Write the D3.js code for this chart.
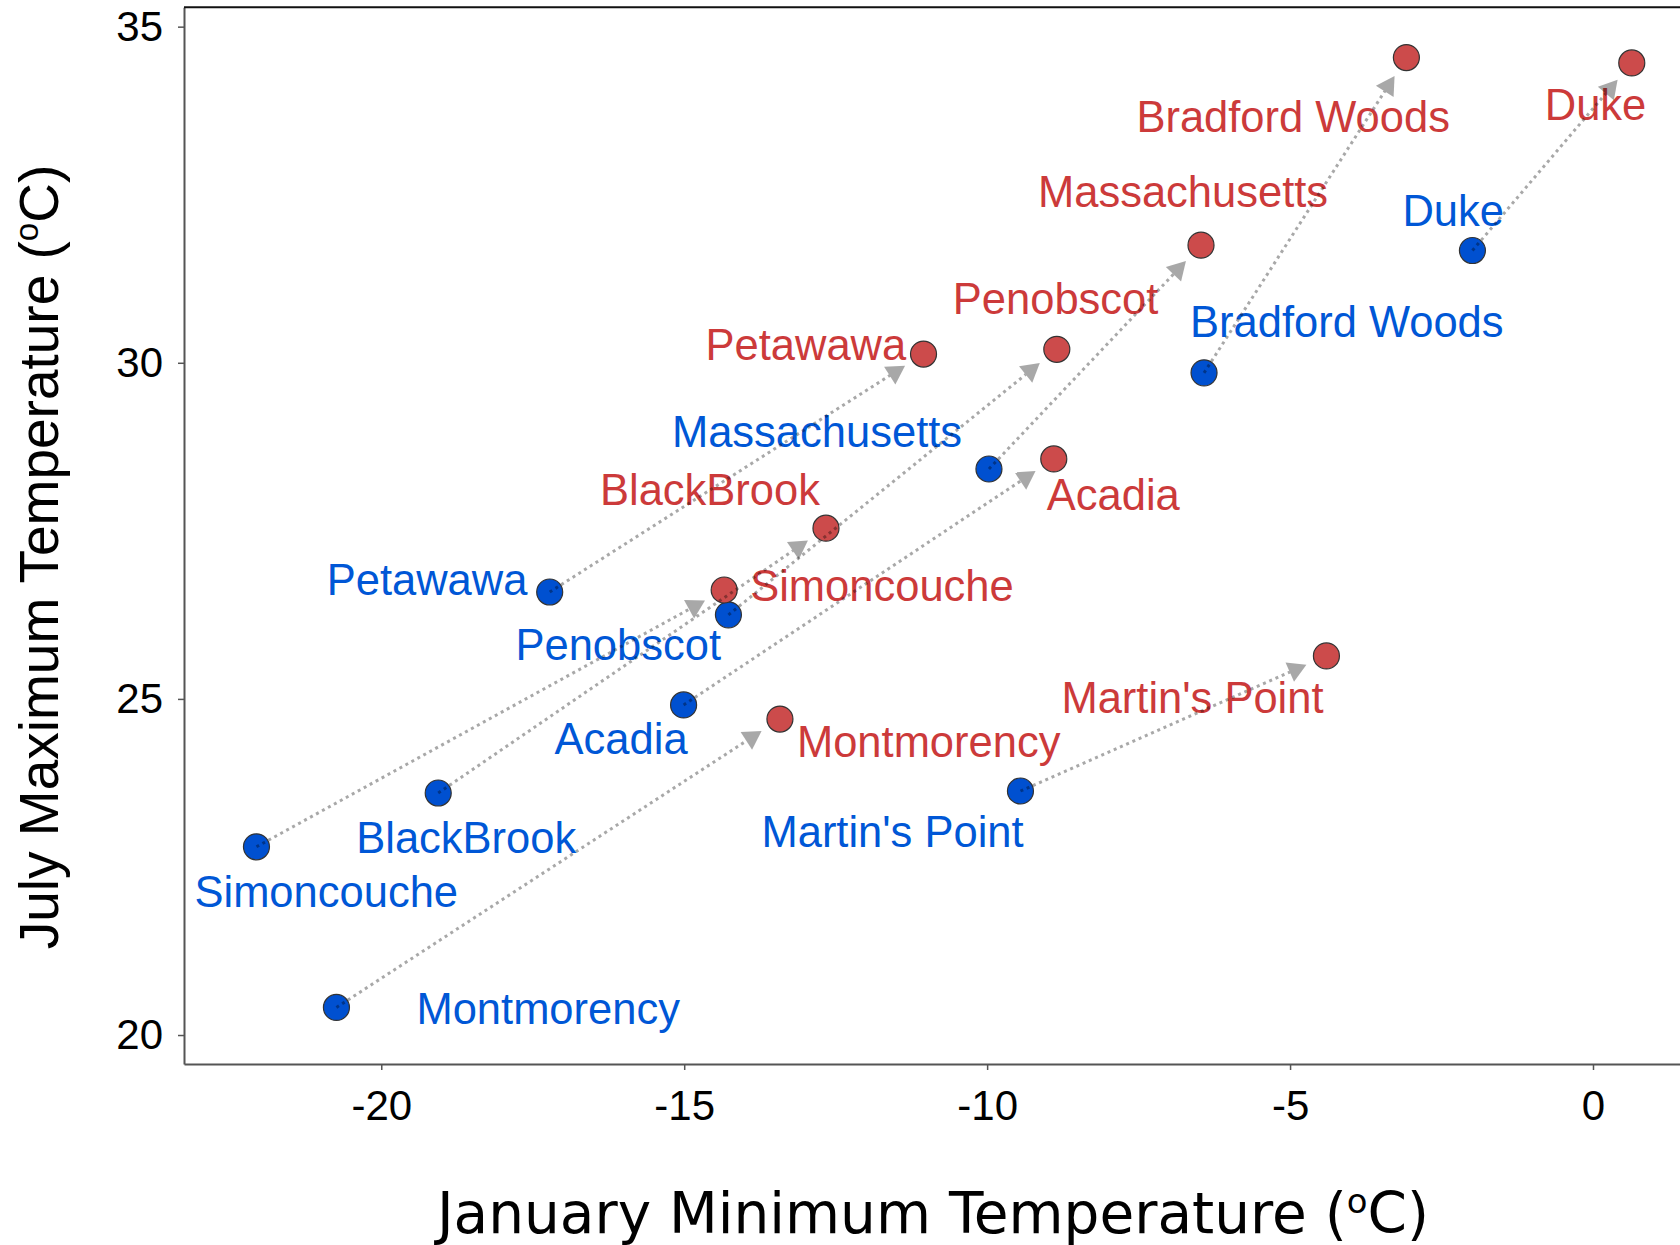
<!DOCTYPE html>
<html>
<head>
<meta charset="utf-8">
<script src="https://cdn.jsdelivr.net/npm/d3@7"></script>
<style>
  body { margin: 0; background: #fff; }
  svg { display: block; }
</style>
</head>
<body>
<svg id="chart" width="1680" height="1245"></svg>
<script>
// Sites, with current and projected climate at each
const sites = ["Simoncouche", "Montmorency", "BlackBrook", "Petawawa", "Penobscot",
               "Acadia", "Massachusetts", "Martin's Point", "Bradford Woods", "Duke"];
const janMinCurrent = [-22.06, -20.74, -19.06, -17.22, -14.27, -15.01, -9.97, -9.45, -6.42, -1.99];
const julMaxCurrent = [22.80, 20.41, 23.60, 26.59, 26.25, 24.91, 28.42, 23.63, 29.85, 31.67];
const janMinFuture  = [-14.34, -13.42, -12.66, -11.05, -8.85, -8.90, -6.47, -4.40, -3.08, 0.64];
const julMaxFuture  = [26.62, 24.70, 27.54, 30.13, 30.20, 28.57, 31.75, 25.64, 34.54, 34.46];

const xTicks = [-20, -15, -10, -5, 0];
const yTicks = [20, 25, 30, 35];

// Label placement (pixel offset of text start / baseline from each point)
const currentLabelOffsets = [[-62, 60], [80, 17], [-82, 60], [-223, 3], [-213, 45],
                             [-129, 49], [-317, -22], [-259, 56], [-14, -36], [-70, -25]];
const futureLabelOffsets  = [[26, 11], [17, 38], [-226, -23], [-218, 6], [-104, -35],
                             [-7, 51], [-163, -38], [-265, 57], [-270, 74], [-87, 57]];

const COLORS = {
  currentFill: "#0050d0", currentText: "#0057d6",
  futureFill: "#cc4b4b", futureText: "#cc3a3a",
  arrow: "rgba(0,0,0,0.34)"
};

const svg = d3.select("#chart");
const plot = { left: 184, right: 1680, top: 7.3, bottom: 1064 };

const x = d3.scaleLinear().domain([-23.256, 1.436]).range([plot.left, plot.right]);
const y = d3.scaleLinear().domain([19.569, 35.288]).range([plot.bottom, plot.top]);

const data = sites.map((name, i) => ({
  name,
  cur: [janMinCurrent[i], julMaxCurrent[i]],
  fut: [janMinFuture[i], julMaxFuture[i]],
  curOff: currentLabelOffsets[i],
  futOff: futureLabelOffsets[i]
}));

// Axes (plain hyphen for negative tick labels)
const tickFont = "'Liberation Sans', Arial, Helvetica, sans-serif";
const plainNumber = d => String(d);

const yAxis = svg.append("g")
  .attr("transform", `translate(${plot.left},0)`)
  .call(d3.axisLeft(y).tickValues(yTicks).tickFormat(plainNumber)
    .tickSize(6).tickSizeOuter(0).tickPadding(15));
const xAxis = svg.append("g")
  .attr("transform", `translate(0,${plot.bottom})`)
  .call(d3.axisBottom(x).tickValues(xTicks).tickFormat(plainNumber)
    .tickSize(6).tickSizeOuter(0).tickPadding(20));

[yAxis, xAxis].forEach(g => {
  g.select(".domain").attr("stroke", "#555").attr("stroke-width", 2);
  g.selectAll(".tick line").attr("stroke", "#555").attr("stroke-width", 1.5);
  g.selectAll(".tick text")
    .attr("fill", "#000")
    .style("font-family", tickFont)
    .style("font-size", "42px");
});

// Top frame line
svg.append("line")
  .attr("x1", plot.left).attr("x2", plot.right)
  .attr("y1", plot.top).attr("y2", plot.top)
  .attr("stroke", "#111").attr("stroke-width", 2);

// Axis titles with superscript degree mark
function degreeTitle(sel, text, size) {
  sel.append("tspan").text(text + " (");
  sel.append("tspan").text("o").style("font-size", (size * 0.6) + "px").attr("dy", -size * 0.36);
  sel.append("tspan").text("C)").attr("dy", size * 0.36);
}

const yTitle = svg.append("text")
  .attr("transform", "translate(58,557) rotate(-90)")
  .attr("text-anchor", "middle")
  .style("font-family", tickFont)
  .style("font-size", "55px")
  .attr("fill", "#000");
degreeTitle(yTitle, "July Maximum Temperature", 55);

const xTitle = svg.append("text")
  .attr("x", 933).attr("y", 1233)
  .attr("text-anchor", "middle")
  .style("font-family", "'DejaVu Sans', Verdana, sans-serif")
  .style("font-size", "56.5px")
  .attr("fill", "#000");
degreeTitle(xTitle, "January Minimum Temperature", 56.5);

// Points
const R = 13;
svg.append("g").selectAll("circle").data(data).join("circle")
  .attr("cx", d => x(d.cur[0])).attr("cy", d => y(d.cur[1])).attr("r", R)
  .attr("fill", COLORS.currentFill).attr("stroke", "#333").attr("stroke-width", 1.2);
svg.append("g").selectAll("circle").data(data).join("circle")
  .attr("cx", d => x(d.fut[0])).attr("cy", d => y(d.fut[1])).attr("r", R)
  .attr("fill", COLORS.futureFill).attr("stroke", "#333").attr("stroke-width", 1.2);

// Labels
const labelStyle = sel => sel
  .style("font-family", tickFont)
  .style("font-size", "43.5px");

svg.append("g").selectAll("text").data(data).join("text")
  .attr("x", d => x(d.cur[0]) + d.curOff[0])
  .attr("y", d => y(d.cur[1]) + d.curOff[1])
  .attr("fill", COLORS.currentText)
  .call(labelStyle)
  .text(d => d.name);

svg.append("g").selectAll("text").data(data).join("text")
  .attr("x", d => x(d.fut[0]) + d.futOff[0])
  .attr("y", d => y(d.fut[1]) + d.futOff[1])
  .attr("fill", COLORS.futureText)
  .call(labelStyle)
  .text(d => d.name);

// Dotted shift arrows from current to projected climate
const GAP = 34, SIDE = 21;
const arrows = svg.append("g");
data.forEach(d => {
  const x0 = x(d.cur[0]), y0 = y(d.cur[1]);
  const x1 = x(d.fut[0]), y1 = y(d.fut[1]);
  const len = Math.hypot(x1 - x0, y1 - y0);
  const ux = (x1 - x0) / len, uy = (y1 - y0) / len;
  const nx = -uy, ny = ux;
  const cx = x1 - ux * GAP, cy = y1 - uy * GAP;
  const hTri = SIDE * Math.sqrt(3) / 2;
  const bx = cx - ux * hTri / 3, by = cy - uy * hTri / 3;
  arrows.append("line")
    .attr("x1", x0).attr("y1", y0).attr("x2", bx).attr("y2", by)
    .attr("stroke", COLORS.arrow).attr("stroke-width", 3)
    .attr("stroke-dasharray", "3,3.8");
  const tip = [cx + ux * hTri * 2 / 3, cy + uy * hTri * 2 / 3];
  const p = d3.path();
  p.moveTo(tip[0], tip[1]);
  p.lineTo(bx + nx * SIDE / 2, by + ny * SIDE / 2);
  p.lineTo(bx - nx * SIDE / 2, by - ny * SIDE / 2);
  p.closePath();
  arrows.append("path").attr("d", p.toString()).attr("fill", COLORS.arrow);
});
</script>
</body>
</html>
